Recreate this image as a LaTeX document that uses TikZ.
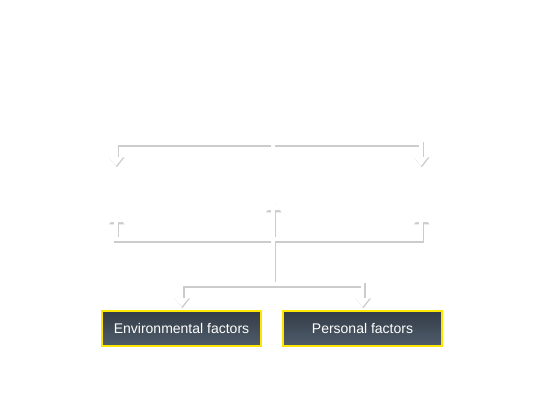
\documentclass[tikz,border=0pt]{standalone}
\usepackage{fontspec}
\setmainfont{Liberation Sans}
\usetikzlibrary{arrows.meta}
\definecolor{boxtop}{HTML}{343C47}
\definecolor{boxbot}{HTML}{4F5D6B}
\definecolor{boxrim}{HTML}{FFE600}

\begin{document}
\begin{tikzpicture}
      [
        x=1pt,y=-1pt,
        factor/.style={draw=boxrim,line width=2pt,top color=boxtop,bottom color=boxbot,
          text=white,minimum width=159pt,minimum height=35pt,inner sep=0pt,
          font=\fontsize{14}{16}\selectfont},
        shade/.style={draw=black!20,line width=4.8pt,
          transform canvas={shift={(0.8pt,-1.3pt)}},
          >={Triangle[width=15.5pt,length=10pt,line width=0pt]}},
        pipe/.style={draw=white,line width=3.5pt,
          >={Triangle[width=14pt,length=9pt,line width=0pt]}}
      ]

      \useasboundingbox (0,0) rectangle (546,410);

      \node[factor] (Env) at (181.5,328.5) {Environmental factors};
      \node[factor] (Pers) at (362.5,328.5) {Personal factors};

      \coordinate (TopL) at (116,166);
      \coordinate (TopR) at (421,166);
      \coordinate (UpL) at (116,213);
      \coordinate (UpR) at (421,213);
      \coordinate (UpC) at (273,201);
      \coordinate (Hub) at (273,284);

      \foreach \layer in {shade,pipe} {
        \draw[\layer,->] (270.5,143) -| (TopL);
        \draw[\layer,->] (274.5,143) -| (TopR);
        \draw[\layer,<->] (UpL) -- ++(0,26) -| (UpR);
        \draw[\layer,->] (Hub) -- (UpC);
        \draw[\layer,->,shorten >=3pt] (Hub) -| (Env);
        \draw[\layer,->,shorten >=3pt] (Hub) -| (Pers);
      }
    \end{tikzpicture}
\end{document}
